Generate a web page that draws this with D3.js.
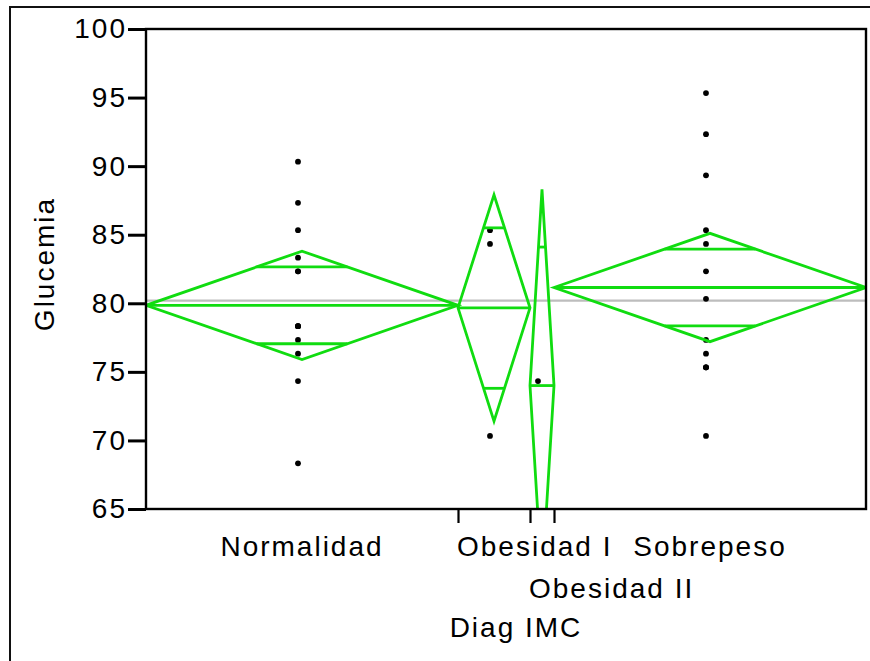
<!DOCTYPE html>
<html>
<head>
<meta charset="utf-8">
<script src="https://cdn.jsdelivr.net/npm/d3@7"></script>
<style>
  body { margin: 0; background: #fff; }
  text { font-family: "Liberation Sans", Arial, sans-serif; font-size: 28px; letter-spacing: 2px; fill: #000; }
</style>
</head>
<body>
<script>
// Glucemia by IMC diagnosis: one-way means diamonds
const categories = ["Normalidad", "Obesidad I", "Obesidad II", "Sobrepeso"];
const normalidad = [90, 87, 85, 83, 82, 82, 78, 78, 78, 77, 76, 74, 68];
const obesidadI = [85, 84, 70];
const obesidadII = [74];
const sobrepeso = [95, 92, 89, 85, 84, 82, 80, 77, 76, 75, 75, 75, 70];
const groupValues = [normalidad, obesidadI, obesidadII, sobrepeso];

// group means, 95% confidence limits and overlap marks
const means = [79.85, 79.67, 74.0, 81.15];
const ciLower = [75.9, 71.4, 59.7, 77.2];
const ciUpper = [83.8, 87.9, 88.3, 85.1];
const overlapLower = [77.05, 73.8, 63.9, 78.35];
const overlapUpper = [82.65, 85.5, 84.1, 83.95];
const grandMean = 80.2;

const yTicks = [65, 70, 75, 80, 85, 90, 95, 100];
const yTitle = "Glucemia";
const xTitle = "Diag IMC";

const W = 870, H = 661;
const plot = { left: 146, top: 29, right: 866, bottom: 509 };
const green = "#10dc10";

const svg = d3.select("body").append("svg").attr("width", W).attr("height", H);

// outer frame (top and left edges)
svg.append("path")
  .attr("d", `M10,${H} L10,7 L${W},7`)
  .attr("fill", "none").attr("stroke", "#111").attr("stroke-width", 2);

// group widths are proportional to the number of observations
const counts = groupValues.map(v => v.length);
const cum = d3.cumsum(counts);
const total = cum[cum.length - 1];
const x = d3.scaleLinear().domain([0, total]).range([plot.left, plot.right]);
const y = d3.scaleLinear().domain([65, 100]).range([plot.bottom, plot.top]);

const groups = categories.map((name, i) => {
  const x0 = x(cum[i] - counts[i]), x1 = x(cum[i]);
  return { name, i, x0, x1, xc: (x0 + x1) / 2 };
});

svg.append("defs").append("clipPath").attr("id", "plotClip")
  .append("rect")
  .attr("x", plot.left).attr("y", plot.top)
  .attr("width", plot.right - plot.left).attr("height", plot.bottom - plot.top);

const inner = svg.append("g").attr("clip-path", "url(#plotClip)");

// grand mean reference line
inner.append("line")
  .attr("x1", plot.left).attr("x2", plot.right)
  .attr("y1", y(grandMean)).attr("y2", y(grandMean))
  .attr("stroke", "#bdbdbd").attr("stroke-width", 2.2);

// raw observations (markers drawn from their upper-left corner)
const markerDx = -4, markerDy = -4.5;
groups.forEach(g => {
  inner.selectAll(null).data(groupValues[g.i]).enter()
    .append("circle")
    .attr("cx", g.xc + markerDx)
    .attr("cy", d => y(d) + markerDy)
    .attr("r", 2.9)
    .attr("fill", "#000");
});

// diamonds
const line = d3.line();
const sw = 2.8;
groups.forEach(g => {
  const i = g.i;
  const ym = y(means[i]);
  inner.append("path")
    .attr("d", line([[g.x0, ym], [g.xc, y(ciUpper[i])], [g.x1, ym], [g.xc, y(ciLower[i])]]) + "Z")
    .attr("fill", "none").attr("stroke", green).attr("stroke-width", sw)
    .attr("stroke-linejoin", "miter");
  // mean line
  inner.append("line")
    .attr("x1", g.x0).attr("x2", g.x1).attr("y1", ym).attr("y2", ym)
    .attr("stroke", green).attr("stroke-width", sw);
  // overlap marks, spanning the diamond at their level
  const halfW = (g.x1 - g.x0) / 2;
  [[overlapUpper[i], ciUpper[i]], [overlapLower[i], ciLower[i]]].forEach(([v, lim]) => {
    const frac = 1 - Math.abs(v - means[i]) / Math.abs(lim - means[i]);
    const hw = halfW * frac;
    inner.append("line")
      .attr("x1", g.xc - hw).attr("x2", g.xc + hw)
      .attr("y1", y(v)).attr("y2", y(v))
      .attr("stroke", green).attr("stroke-width", sw);
  });
});

// plot border
svg.append("rect")
  .attr("x", plot.left).attr("y", plot.top)
  .attr("width", plot.right - plot.left).attr("height", plot.bottom - plot.top)
  .attr("fill", "none").attr("stroke", "#000").attr("stroke-width", 2.4);

// y axis
const yAxis = svg.append("g")
  .attr("transform", `translate(${plot.left},0)`)
  .call(d3.axisLeft(y).tickValues(yTicks).tickSizeInner(18).tickSizeOuter(0).tickPadding(1));
yAxis.select(".domain").remove();
yAxis.selectAll(".tick line").attr("stroke", "#000").attr("stroke-width", 3);
yAxis.selectAll(".tick text").attr("font-size", null).attr("font-family", null);

// x axis: ticks at group boundaries
const xAxis = svg.append("g")
  .attr("transform", `translate(0,${plot.bottom})`)
  .call(d3.axisBottom(x).tickValues(cum.slice(0, -1)).tickSizeInner(14).tickSizeOuter(0).tickFormat(""));
xAxis.select(".domain").remove();
xAxis.selectAll(".tick line").attr("stroke", "#000").attr("stroke-width", 2.2);

// category labels; narrow groups start at their left edge, clashing labels drop a row
const rowEnds = [];
const labelBase = 556, rowStep = 42;
groups.forEach(g => {
  const t = svg.append("text").text(g.name);
  const w = t.node().getComputedTextLength();
  const start = w > (g.x1 - g.x0) ? g.x0 - 1 : g.xc - w / 2;
  let row = 0;
  while (rowEnds[row] !== undefined && rowEnds[row] + 8 > start) row++;
  rowEnds[row] = start + w;
  t.attr("x", start).attr("y", labelBase + row * rowStep);
});

// axis titles
svg.append("text")
  .attr("x", 516).attr("y", 637)
  .attr("text-anchor", "middle")
  .text(xTitle);

svg.append("text")
  .attr("transform", `translate(54,${(plot.top + plot.bottom) / 2 - 5}) rotate(-90)`)
  .attr("text-anchor", "middle")
  .text(yTitle);
</script>
</body>
</html>
